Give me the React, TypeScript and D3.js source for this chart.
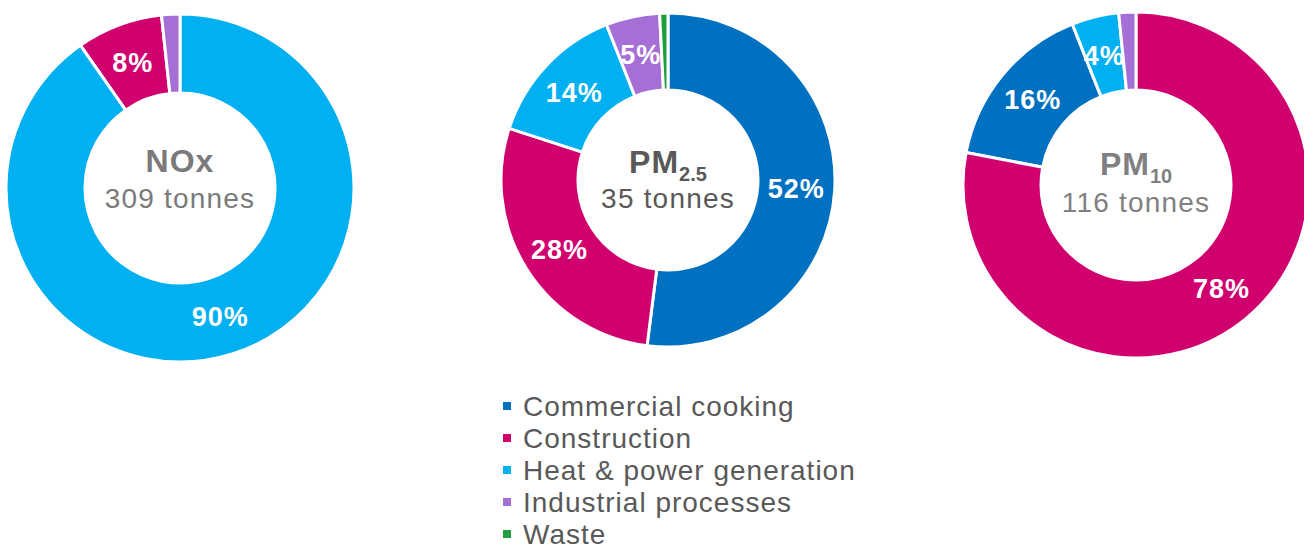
import React, { useEffect, useRef } from 'react';
import * as d3 from 'd3';

// Source categories (legend order)
const categories = [
  'Commercial cooking',
  'Construction',
  'Heat & power generation',
  'Industrial processes',
  'Waste',
];
const categoryColors = ['#0070c0', '#d0006f', '#00b0f0', '#a66fd6', '#1e9e3c'];

// Share (%) of each category, same order as categories
const noxShares = [0, 8, 90.3, 1.7, 0];
const pm25Shares = [52, 28, 14, 5.2, 0.8];
const pm10Shares = [16, 78, 4.4, 1.6, 0];

const pollutantNames = ['NOx', 'PM', 'PM'];
const pollutantSubs = ['', '2.5', '10'];
const totalTonnes = [309, 35, 116];

// Layout for the three donuts
const donutLayout = [
  { cx: 180, cy: 188, outer: 174, inner: 95, titleY: 172, totalY: 208, textColor: '#7a7a7a' },
  { cx: 668, cy: 180, outer: 167, inner: 90, titleY: 173, totalY: 208, textColor: '#595959' },
  { cx: 1136, cy: 185, outer: 173, inner: 95, titleY: 175, totalY: 212, textColor: '#808080' },
];

const FONT = '"Liberation Sans", Arial, Helvetica, sans-serif';

type Slice = d3.PieArcDatum<number> & { cat: number };

const App: React.FC = () => {
  const svgRef = useRef<SVGSVGElement>(null);

  useEffect(() => {
    if (!svgRef.current) return;
    const width = 1304;
    const height = 550;

    const svg = d3.select(svgRef.current);
    svg.selectAll('*').remove();
    svg.attr('width', width).attr('height', height);

    const allShares = [noxShares, pm25Shares, pm10Shares];

    // d3.pie sorts descending by default, starting at 12 o'clock clockwise
    const pie = d3.pie<number>().value((d) => d);

    allShares.forEach((shares, ci) => {
      const lay = donutLayout[ci];
      const g = svg.append('g').attr('transform', `translate(${lay.cx},${lay.cy})`);

      const arc = d3.arc<Slice>()
        .innerRadius(lay.inner)
        .outerRadius(lay.outer);

      const labelR = (lay.inner + lay.outer) / 2;
      const labelArc = d3.arc<Slice>()
        .innerRadius(labelR)
        .outerRadius(labelR);

      // pie() keeps the input order, so the array position is the category
      const arcs: Slice[] = pie(shares)
        .map((a, i) => ({ ...a, cat: i }))
        .filter((d) => d.value > 0);

      g.selectAll('path.slice')
        .data(arcs)
        .join('path')
        .attr('class', 'slice')
        .attr('d', arc as any)
        .attr('fill', (d) => categoryColors[d.cat])
        .attr('stroke', '#ffffff')
        .attr('stroke-width', 3);

      g.selectAll('text.pct')
        .data(arcs.filter((d) => d.value >= 3))
        .join('text')
        .attr('class', 'pct')
        .attr('transform', (d) => `translate(${labelArc.centroid(d)})`)
        .attr('text-anchor', 'middle')
        .attr('dy', '0.36em')
        .style('font-family', FONT)
        .style('font-size', '27px')
        .style('font-weight', 'bold')
        .style('letter-spacing', '1px')
        .style('fill', '#ffffff')
        .text((d) => `${Math.round(d.value)}%`);

      // Centre text
      const title = g.append('text')
        .attr('text-anchor', 'middle')
        .attr('y', lay.titleY - lay.cy)
        .style('font-family', FONT)
        .style('font-weight', 'bold')
        .style('fill', lay.textColor);
      title.append('tspan')
        .style('font-size', '32px')
        .style('letter-spacing', '1px')
        .text(pollutantNames[ci]);
      if (pollutantSubs[ci]) {
        title.append('tspan')
          .attr('dy', 8)
          .style('font-size', '20px')
          .text(pollutantSubs[ci]);
      }

      g.append('text')
        .attr('text-anchor', 'middle')
        .attr('y', lay.totalY - lay.cy)
        .style('font-family', FONT)
        .style('font-size', '28px')
        .style('letter-spacing', '1.2px')
        .style('fill', lay.textColor)
        .text(`${totalTonnes[ci]} tonnes`);
    });

    // Legend
    const legend = svg.append('g').attr('transform', 'translate(503,416)');
    const rowH = 32;
    const items = legend.selectAll('g.item')
      .data(categories)
      .join('g')
      .attr('class', 'item')
      .attr('transform', (_d, i) => `translate(0,${i * rowH})`);

    items.append('rect')
      .attr('x', 0)
      .attr('y', -14)
      .attr('width', 8)
      .attr('height', 8)
      .attr('fill', (_d, i) => categoryColors[i]);

    items.append('text')
      .attr('x', 20)
      .attr('y', 0)
      .style('font-family', FONT)
      .style('font-size', '28px')
      .style('letter-spacing', '1px')
      .style('fill', '#595959')
      .text((d) => d);
  }, []);

  return (
    <svg
      ref={svgRef}
      style={{ position: 'absolute', left: 0, top: 0, display: 'block', background: '#ffffff' }}
    />
  );
};

export default App;
